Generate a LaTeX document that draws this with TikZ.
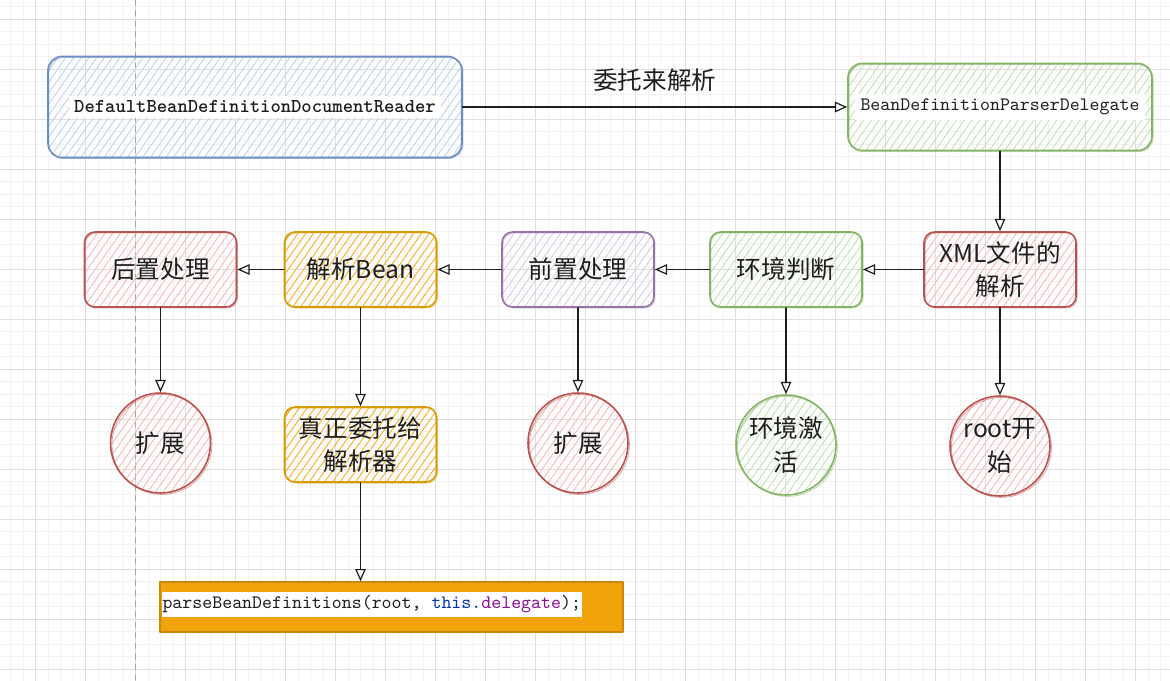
\documentclass[tikz,border=0pt]{standalone}
\usepackage{fontspec}
\setmainfont{Noto Sans CJK SC}
\usetikzlibrary{arrows.meta,patterns.meta,positioning}
\definecolor{qink}{HTML}{1E1E1E}
\definecolor{qblue}{HTML}{6C8EBF}
\definecolor{qbluehatch}{HTML}{BCD2F0}
\definecolor{qgreen}{HTML}{82B366}
\definecolor{qgreenhatch}{HTML}{C4E0B4}
\definecolor{qred}{HTML}{B85450}
\definecolor{qredhatch}{HTML}{F5BBB8}
\definecolor{qorange}{HTML}{D79B00}
\definecolor{qorangehatch}{HTML}{F4AE22}
\definecolor{qpurple}{HTML}{9673A6}
\definecolor{qpurplehatch}{HTML}{DACBE3}
\definecolor{qcode}{HTML}{F0A30A}
\definecolor{qcodeedge}{HTML}{C9860A}
\definecolor{qkw}{HTML}{0033B3}
\definecolor{qfield}{HTML}{871094}
\newcommand{\cjkbig}{\fontsize{14}{19}\selectfont}

\begin{document}
\begin{tikzpicture}[>={Triangle[open,length=7pt,width=6pt]},line cap=round,line join=round,
  font=\cjkbig,text=qink,
  box/.style={draw=#1,rounded corners=6pt,line width=0.9pt,align=center,
    minimum width=30.4mm,minimum height=15mm,inner sep=2pt,
    postaction={draw=#1,draw opacity=.5,line width=0.5pt,
      transform canvas={shift={(0.6pt,-0.6pt)}}}},
  circ/.style={draw=#1,circle,line width=0.9pt,minimum size=20mm,align=center,inner sep=1pt,
    postaction={draw=#1,draw opacity=.5,line width=0.5pt,
      transform canvas={shift={(0.8pt,-0.8pt)}}}},
  hatch/.style={pattern={Lines[angle=55,distance=3.6pt,line width=0.5pt]},pattern color=#1},
  arr/.style={->,line width=0.7pt,qink}]
\useasboundingbox (0,0) rectangle (23.4,-13.62);
% grid background
\begin{scope}
  \clip (0,0) rectangle (23.4,-13.62);
  \draw[black!5,line width=0.4pt,shift={(0.714,-0.386)}] (-1,-14) grid[step=0.25] (23,1);
  \draw[black!13,line width=0.5pt,shift={(0.714,-0.386)}] (-1,-14) grid[step=1] (23,1);
  \draw[black!35,dashed,line width=0.6pt] (2.714,0) -- (2.714,-13.62);
\end{scope}
% top row
\node[box=qblue,hatch=qbluehatch,minimum width=82.8mm,minimum height=20.2mm,rounded corners=8pt] (reader) at (5.1,-2.14)
  {\colorbox{white}{\fontsize{11.2}{13}\ttfamily\bfseries DefaultBeanDefinitionDocumentReader}};
\node[box=qgreen,hatch=qgreenhatch,minimum width=60.8mm,minimum height=17.4mm,rounded corners=8pt] (delegate) at (20,-2.14)
  {\colorbox{white}{\fontsize{10.8}{13}\ttfamily BeanDefinitionParserDelegate}};
% middle row
\node[box=qred,hatch=qredhatch] (xml) at (20,-5.39) {XML文件的\\解析};
\node[box=qgreen,hatch=qgreenhatch] (env) at (15.72,-5.39) {环境判断};
\node[box=qpurple,hatch=qpurplehatch] (pre) at (11.56,-5.39) {前置处理};
\node[box=qorange,hatch=qorangehatch] (parse) at (7.21,-5.39) {解析Bean};
\node[box=qred,hatch=qredhatch] (post) at (3.21,-5.39) {后置处理};
% bottom row
\node[circ=qred,hatch=qredhatch] (ext1) at (3.21,-8.86) {扩展};
\node[box=qorange,hatch=qorangehatch] (real) at (7.21,-8.89) {真正委托给\\解析器};
\node[circ=qred,hatch=qredhatch] (ext2) at (11.56,-8.86) {扩展};
\node[circ=qgreen,hatch=qgreenhatch] (active) at (15.72,-8.9) {环境激\\活};
\node[circ=qred,hatch=qredhatch] (root) at (20,-8.92) {root开\\始};
% code line
\node[draw=qcodeedge,fill=qcode,line width=0.8pt,minimum width=92.6mm,minimum height=10mm] (code) at (7.83,-12.14) {};
\node[fill=white,anchor=west,inner xsep=0.5pt,inner ysep=2pt,font=\fontsize{10.8}{13}\ttfamily] (codetext) at ([xshift=0.4mm,yshift=0.5mm]code.west)
  {parseBeanDefinitions(root, \textcolor{qkw}{this.}\textcolor{qfield}{delegate});};
% connectors
\draw[arr] (reader) -- node[above=5pt] {委托来解析} (delegate);
\draw[arr] (delegate) -- (xml);
\draw[arr] (xml) -- (env);
\draw[arr] (env) -- (pre);
\draw[arr] (pre) -- (parse);
\draw[arr] (parse) -- (post);
\draw[arr] (post) -- (ext1);
\draw[arr] (parse) -- (real);
\draw[arr] (pre) -- (ext2);
\draw[arr] (env) -- (active);
\draw[arr] (xml) -- (root);
\draw[arr] (real.south) -- (real.south |- code.north);
\end{tikzpicture}
\end{document}
